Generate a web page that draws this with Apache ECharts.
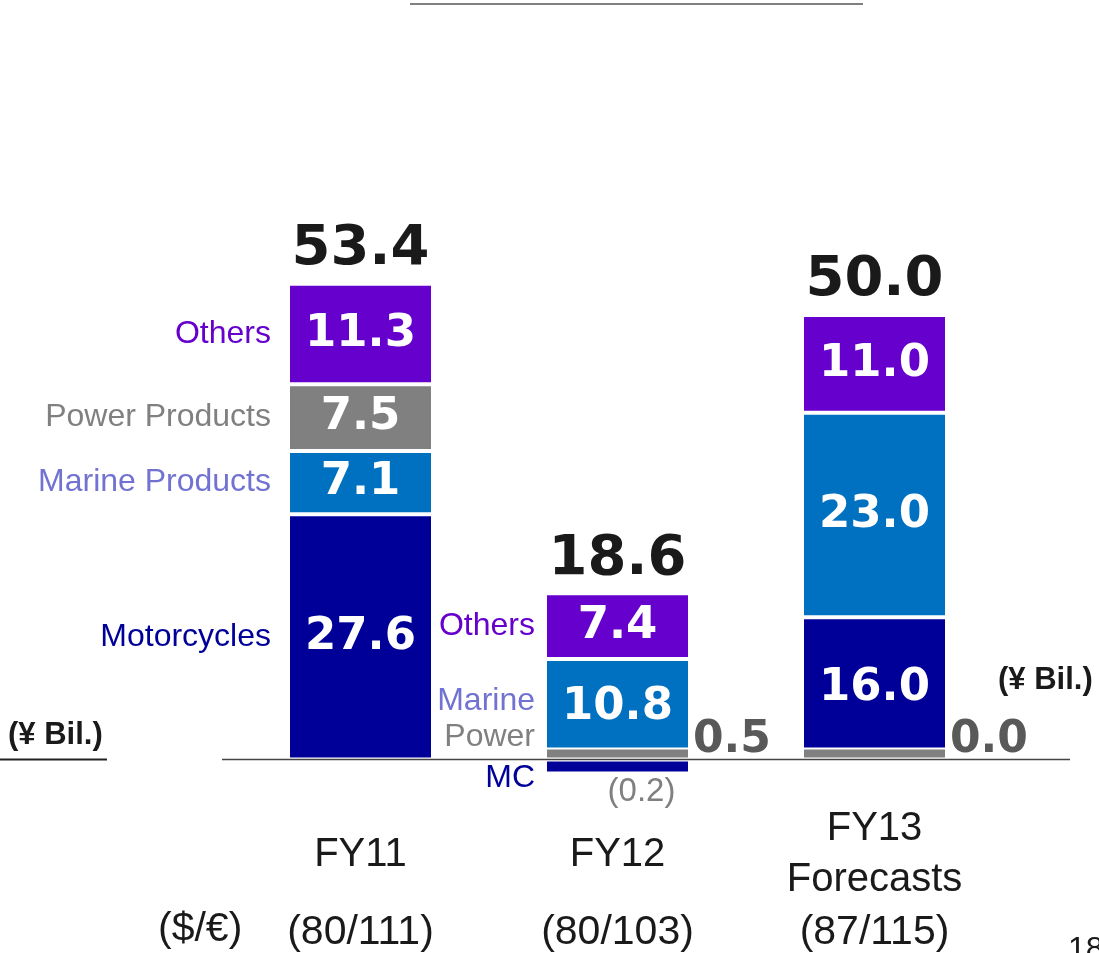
<!DOCTYPE html>
<html>
<head>
<meta charset="utf-8">
<script src="https://cdn.jsdelivr.net/npm/echarts@6/dist/echarts.min.js"></script>
<style>
  html, body { margin: 0; padding: 0; background: #fff; }
  #main { width: 1099px; height: 953px; }
</style>
</head>
<body>
<div id="main"></div>
<script>
// operating income by segment, ¥ bil.
var categories = ['FY11', 'FY12', 'FY13\nForecasts'];
var fxRates = ['(80/111)', '(80/103)', '(87/115)'];
var motorcycles = [27.6, -0.2, 16.0];
var marine = [7.1, 10.8, 23.0];
var power = [7.5, 0.5, 0.0];
var others = [11.3, 7.4, 11.0];
var totals = [53.4, 18.6, 50.0];
// power sits at the bottom of the stack in FY12 / FY13
var powerAtBase = [false, true, true];
var namesLong = ['Motorcycles', 'Marine Products', 'Power Products', 'Others'];
var namesShort = ['MC', 'Marine', 'Power', 'Others'];

var chart = echarts.init(document.getElementById('main'));

var SANS = '"Liberation Sans", Arial, sans-serif';
var HEAVY = '"DejaVu Sans", sans-serif';
var colors = { mc: '#000099', marine: '#0070C0', power: '#808080', others: '#6600CC' };
var nameColors = { mc: '#000099', marine: '#7272D2', power: '#808080', others: '#6600CC' };
var labelSets = [namesLong, namesShort, null];
var nudge = { mc: [0, 12], power: [0, -16], marine: [0, -6], others: [0, 0] };

function fmt(v) {
  return v < 0 ? '(' + (-v).toFixed(1) + ')' : v.toFixed(1);
}

var sideLabel = { position: 'right', distance: 3, offset: [0, -13], color: '#595959', fontSize: 44 };
var belowLabel = { position: 'bottom', distance: 2, offset: [24, 0], color: '#808080',
  fontWeight: 'normal', fontFamily: SANS, fontSize: 33 };

function barData(values, mask) {
  return values.map(function (v, i) {
    if (mask && !mask[i]) return '-';
    var item = { value: v };
    if (v < 0) item.label = belowLabel;
    else if (v < 1) item.label = sideLabel;
    return item;
  });
}

function nameData(values, mask, key, k) {
  return values.map(function (v, i) {
    if (mask && !mask[i]) return '-';
    var set = labelSets[i];
    var lab = { show: !!set, formatter: set ? set[k] : '' };
    if (set === namesShort) {
      lab.offset = nudge[key];
      lab.distance = 10;
    }
    return { value: v, label: lab };
  });
}

// stacking order, bottom to top
var layers = [
  { key: 'power', k: 2, values: power, mask: powerAtBase, minH: 12, z: 3 },
  { key: 'mc', k: 0, values: motorcycles, minH: 14 },
  { key: 'marine', k: 1, values: marine },
  { key: 'power', k: 2, values: power, mask: powerAtBase.map(function (b) { return !b; }) },
  { key: 'others', k: 3, values: others }
];

var series = [];
layers.forEach(function (l) {
  series.push({
    type: 'bar',
    stack: 'total',
    barWidth: 145,
    barGap: '-100%',
    barMinHeight: l.minH || 0,
    z: l.z || 2,
    itemStyle: { color: colors[l.key], borderColor: '#fff', borderWidth: 2 },
    label: {
      show: true,
      position: 'inside',
      color: '#fff',
      fontFamily: HEAVY,
      fontWeight: 'bold',
      fontSize: 45,
      formatter: function (p) { return fmt(p.value); }
    },
    data: barData(l.values, l.mask)
  });
});
// invisible twin stack that carries the segment names
layers.forEach(function (l) {
  series.push({
    type: 'bar',
    stack: 'names',
    barWidth: 145,
    barGap: '-100%',
    barMinHeight: l.minH || 0,
    silent: true,
    itemStyle: { color: 'transparent' },
    label: {
      position: 'left',
      distance: 17,
      color: nameColors[l.key],
      fontFamily: SANS,
      fontSize: 32
    },
    data: nameData(l.values, l.mask, l.key, l.k)
  });
});
// totals on top
series.push({
  type: 'bar',
  stack: 'total',
  barWidth: 145,
  barGap: '-100%',
  itemStyle: { color: 'transparent' },
  label: {
    show: true,
    position: 'top',
    distance: 6,
    color: '#1a1a1a',
    fontFamily: HEAVY,
    fontWeight: 'bold',
    fontSize: 56,
    formatter: function (p) { return totals[p.dataIndex].toFixed(1); }
  },
  data: totals.map(function () { return 0; })
});

var option = {
  animation: false,
  grid: { left: 232, right: 96, top: 226, bottom: 104 },
  xAxis: [
    {
      type: 'category',
      data: categories,
      axisLine: { show: false, onZero: false },
      axisTick: { show: false },
      axisLabel: {
        margin: 6,
        verticalAlign: 'middle',
        color: '#1a1a1a',
        fontFamily: SANS,
        fontSize: 40,
        lineHeight: 51
      }
    },
    {
      type: 'category',
      position: 'bottom',
      data: fxRates,
      axisLine: { show: false, onZero: false },
      axisTick: { show: false },
      axisLabel: {
        margin: 84,
        verticalAlign: 'middle',
        color: '#1a1a1a',
        fontFamily: SANS,
        fontSize: 41
      }
    }
  ],
  yAxis: {
    type: 'value',
    min: -10,
    max: 60,
    show: false
  },
  series: series
};
chart.setOption(option);

var y0 = chart.convertToPixel({ yAxisIndex: 0 }, 0);
chart.setOption({
  graphic: [
    { type: 'line', z: 100, shape: { x1: 222, y1: y0, x2: 1070, y2: y0 }, style: { stroke: '#444', lineWidth: 1.5 } },
    { type: 'line', z: 100, shape: { x1: 0, y1: y0, x2: 107, y2: y0 }, style: { stroke: '#222', lineWidth: 2 } },
    { type: 'line', z: 100, shape: { x1: 410, y1: 4, x2: 863, y2: 4 }, style: { stroke: '#808080', lineWidth: 2 } },
    { type: 'text', left: 8, top: 720, style: { text: '(¥ Bil.)', fill: '#1a1a1a', font: 'bold 31px ' + SANS } },
    { type: 'text', left: 998, top: 665, style: { text: '(¥ Bil.)', fill: '#1a1a1a', font: 'bold 31px ' + SANS } },
    { type: 'text', left: 158, top: 909, style: { text: '($/€)', fill: '#1a1a1a', font: '41px ' + SANS } },
    { type: 'text', left: 1068, top: 934, style: { text: '18', fill: '#1a1a1a', font: '32px ' + SANS } }
  ]
});
</script>
</body>
</html>
